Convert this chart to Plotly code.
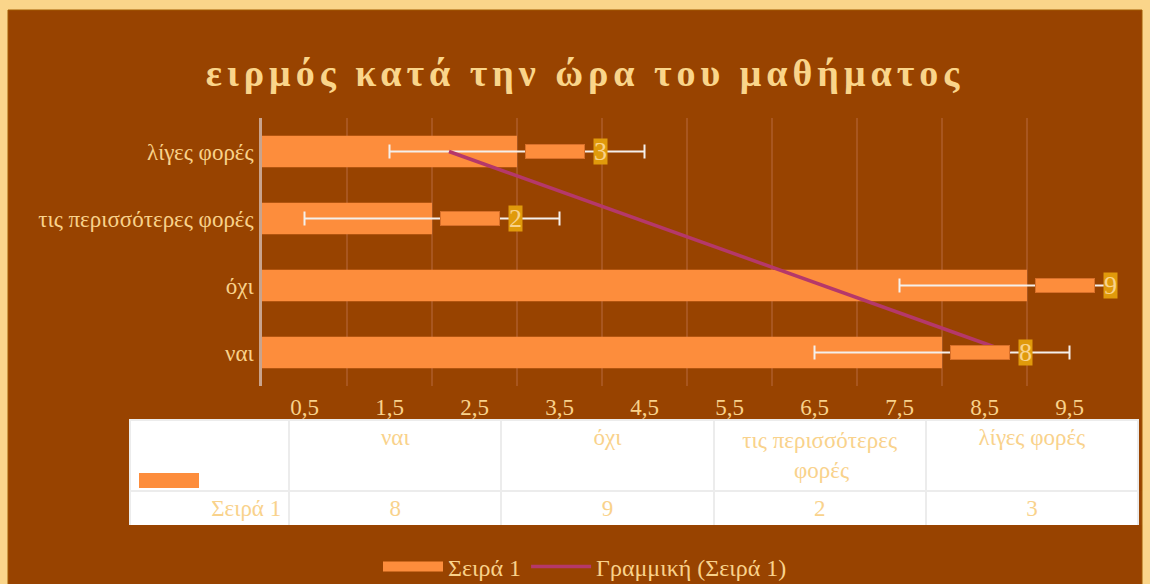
import numpy as np
import plotly.graph_objects as go

# ---- data ----
categories = ["ναι", "όχι", "τις περισσότερες φορές", "λίγες φορές"]
table_headers = ["ναι", "όχι",
                 "τις περισσότερες<br>" + "\u00a0" * 9 + "φορές",
                 "λίγες φορές"]
values = [8, 9, 2, 3]
error_value = 1.5
series_name = "Σειρά 1"
trend_name = "Γραμμική (Σειρά 1)"
tick_vals = [0.5, 1.5, 2.5, 3.5, 4.5, 5.5, 6.5, 7.5, 8.5, 9.5]
tick_text = ["0,5", "1,5", "2,5", "3,5", "4,5", "5,5", "6,5", "7,5", "8,5", "9,5"]
title_text = "ειρμός κατά την ώρα του μαθήματος"

# ---- styles ----
W, H = 1150, 584
FONT = "Liberation Serif, Times New Roman, serif"
TXT = "#F9D28B"
BROWN = "#984300"
FRAME = "#FAD58A"
BAR = "#FD8D3C"
GOLD = "#E09A0B"
TREND = "#B5386A"

# linear trendline computed from the data (category index vs value)
idx = np.arange(1, len(values) + 1)
slope, intercept = np.polyfit(idx, values, 1)
trend_vals = slope * idx + intercept

fig = go.Figure()

fig.add_trace(go.Bar(
    y=categories, x=values, orientation="h", name=series_name,
    marker=dict(color=BAR, line=dict(width=0)), width=0.47,
    error_x=dict(type="constant", value=error_value, color="#F4F0EC",
                 thickness=2, width=7),
    showlegend=False, legendgroup="s1",
))
# legend entry for the series (wide key as in the original)
fig.add_trace(go.Scatter(
    y=[None], x=[None], mode="lines", name=series_name, legendgroup="s1",
    line=dict(color=BAR, width=14), hoverinfo="skip",
))

fig.add_trace(go.Scatter(
    y=categories, x=trend_vals, mode="lines", name=trend_name,
    line=dict(color=TREND, width=3.5), hoverinfo="skip",
))

fig.add_trace(go.Table(
    domain=dict(x=[130 / W, 1138 / W], y=[1 - 525 / H, 1 - 420 / H]),
    columnwidth=[159, 212, 212, 212, 212],
    header=dict(
        values=[""] + table_headers,
        fill_color="white", line=dict(color="#ECECEC", width=2),
        font=dict(family=FONT, size=23, color=TXT),
        align="center", height=66,
    ),
    cells=dict(
        values=[[series_name]] + [[str(v)] for v in values],
        fill_color="white", line=dict(color="#ECECEC", width=2),
        font=dict(family=FONT, size=23, color=TXT),
        align=["right", "center", "center", "center", "center"], height=39,
    ),
))

annotations = []
for c, v in zip(categories, values):
    annotations.append(dict(
        x=v, y=c, xref="x", yref="y", xanchor="left", yanchor="middle",
        xshift=8, text=" ", showarrow=False, width=58, height=13,
        bgcolor=BAR, bordercolor="#D8702A", borderwidth=1, borderpad=0,
        font=dict(size=8),
    ))
    annotations.append(dict(
        x=v, y=c, xref="x", yref="y", xanchor="left", yanchor="middle",
        xshift=76, text=str(v), showarrow=False, width=13, height=25,
        bgcolor=GOLD, borderpad=0, font=dict(family=FONT, size=26, color=TXT),
    ))

fig.update_layout(
    width=W, height=H,
    margin=dict(l=0, r=0, t=0, b=0, autoexpand=False),
    paper_bgcolor=FRAME, plot_bgcolor="rgba(0,0,0,0)",
    font=dict(family=FONT, color=TXT, size=23),
    title=dict(text='<b><span style="letter-spacing:5px">' + title_text + "</span></b>",
               x=585 / W, xanchor="center",
               y=1 - 73 / H, yanchor="middle",
               font=dict(family=FONT, size=38, color=FRAME)),
    xaxis=dict(domain=[262 / W, 1112 / W], range=[0, 10],
               tickvals=tick_vals, ticktext=tick_text, showgrid=False,
               zeroline=False, showline=False, ticks="",
               ticklabelstandoff=5,
               tickfont=dict(family=FONT, size=23, color=TXT),
               minor=dict(tick0=0, dtick=1, showgrid=True, gridcolor="#A8561F",
                          gridwidth=1.5)),
    yaxis=dict(domain=[1 - 386 / H, 1 - 118 / H], range=[-0.5, 3.5],
               showgrid=False, zeroline=False, showline=True,
               linecolor="#C9A38C", linewidth=2.5, ticks="",
               ticklabelstandoff=1,
               tickfont=dict(family=FONT, size=23, color=TXT)),
    legend=dict(orientation="h", x=585 / W, xanchor="center",
                y=1 - 567 / H, yanchor="middle", bgcolor="rgba(0,0,0,0)",
                font=dict(family=FONT, size=24, color=TXT), itemwidth=60),
    shapes=[
        dict(type="rect", xref="paper", yref="paper", layer="below",
             x0=8 / W, x1=1142 / W, y0=-0.1, y1=1 - 10 / H,
             fillcolor=BROWN, line=dict(color="#A25A00", width=1)),
        dict(type="rect", xref="paper", yref="paper", layer="above",
             x0=139 / W, x1=199 / W, y0=1 - 488 / H, y1=1 - 473 / H,
             fillcolor=BAR, line=dict(width=0)),
    ],
    annotations=annotations,
    bargap=0.53,
)

fig.write_html("out.html", config={"displayModeBar": False},
               post_script="document.body.style.margin='0';")
